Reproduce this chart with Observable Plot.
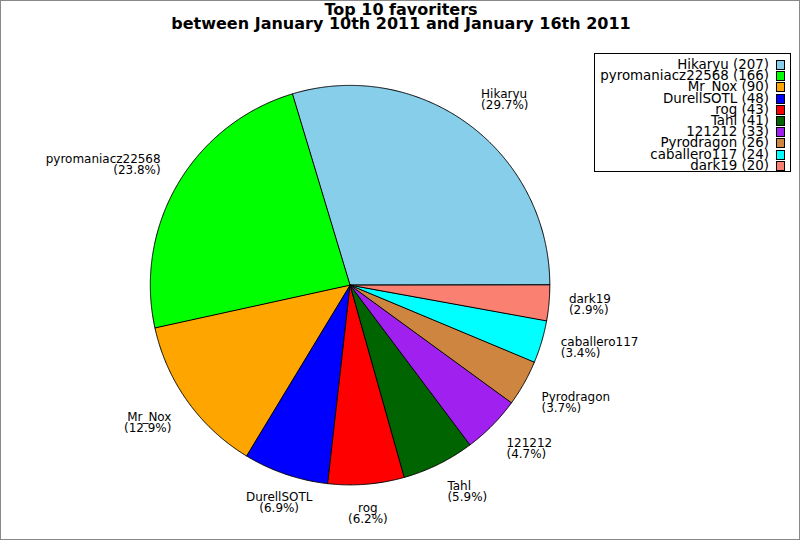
<!DOCTYPE html>
<html>
<head>
<meta charset="utf-8">
<script src="https://cdn.jsdelivr.net/npm/d3@7"></script>
<script src="https://cdn.jsdelivr.net/npm/@observablehq/plot@0.6"></script>
<style>
  body { margin: 0; background: #fff; font-family: "DejaVu Sans", sans-serif; }
  #wrap { position: relative; width: 800px; height: 540px; box-sizing: border-box; border: 1px solid #888; overflow: hidden; }
  #chart { position: absolute; left: -1px; top: -1px; }
  #title { position: absolute; left: 0; width: 800px; top: 2px; text-align: center; font-weight: bold; font-size: 16px; line-height: 14px; }
  #legend { position: absolute; left: 593px; top: 52px; width: 197px; height: 119px; border: 1px solid #000; background: #fff; padding-top: 5px; box-sizing: border-box; }
  .row { height: 11.2px; font-size: 13.4px; line-height: 11.2px; text-align: right; padding-right: 21px; position: relative; white-space: nowrap; }
  .sw { position: absolute; right: 5px; top: 1px; width: 7px; height: 8px; border: 1px solid #000; }
</style>
</head>
<body>
<div id="wrap">
  <div id="chart"></div>
  <div id="title">Top 10 favoriters<br>between January 10th 2011 and January 16th 2011</div>
  <div id="legend"></div>
</div>
<script>
const names = ["Hikaryu", "pyromaniacz22568", "Mr_Nox", "DurellSOTL", "rog", "Tahl", "121212", "Pyrodragon", "caballero117", "dark19"];
const counts = [207, 166, 90, 48, 43, 41, 33, 26, 24, 20];
const colors = ["#87ceeb", "#00ff00", "#ffa500", "#0000ff", "#ff0000", "#006400", "#a020f0", "#cd853f", "#00ffff", "#fa8072"];

const total = d3.sum(counts);

// slices go counter-clockwise from east
let acc = 0;
const slices = names.map((name, i) => {
  const a0 = acc / total * 2 * Math.PI;
  acc += counts[i];
  const a1 = acc / total * 2 * Math.PI;
  return {name, count: counts[i], a0, a1, pct: (counts[i] / total * 100).toFixed(1)};
});

// polygon points for each slice
const pts = [];
slices.forEach(s => {
  pts.push({name: s.name, x: 0, y: 0});
  const n = Math.max(2, Math.ceil((s.a1 - s.a0) / 0.005));
  for (let k = 0; k <= n; k++) {
    const a = s.a0 + (s.a1 - s.a0) * k / n;
    pts.push({name: s.name, x: Math.cos(a), y: Math.sin(a)});
  }
});

// labels outside the pie
const labels = slices.map(s => {
  const m = (s.a0 + s.a1) / 2;
  const c = Math.cos(m), sn = Math.sin(m);
  return {
    text: `${s.name}\n(${s.pct}%)`,
    x: 1.1 * c, y: 1.1 * sn,
    ta: c > 0.35 ? "start" : c < -0.35 ? "end" : "middle",
    la: sn > 0.3 ? "bottom" : sn < -0.3 ? "top" : "middle"
  };
});
const groups = d3.groups(labels, d => d.ta + "|" + d.la);

const chart = Plot.plot({
  width: 800,
  height: 540,
  margin: 0,
  style: {background: "transparent", fontFamily: "DejaVu Sans, sans-serif"},
  x: {domain: [-1.75, 2.25], axis: null},
  y: {domain: [-1.275, 1.425], axis: null},
  color: {domain: names, range: colors},
  marks: [
    Plot.line(pts, {x: "x", y: "y", z: "name", fill: "name", stroke: "#000", strokeWidth: 1, curve: "linear-closed"}),
    ...groups.map(([key, g]) => {
      const [ta, la] = key.split("|");
      return Plot.text(g, {x: "x", y: "y", text: "text", textAnchor: ta, lineAnchor: la, fontSize: 12, lineHeight: 0.92, fill: "#000"});
    })
  ]
});

d3.select("#chart").append(() => chart);

// legend
const legend = d3.select("#legend");
names.forEach((n, i) => {
  const row = legend.append("div").attr("class", "row").text(`${n} (${counts[i]})`);
  row.append("span").attr("class", "sw").style("background", colors[i]);
});
</script>
</body>
</html>
